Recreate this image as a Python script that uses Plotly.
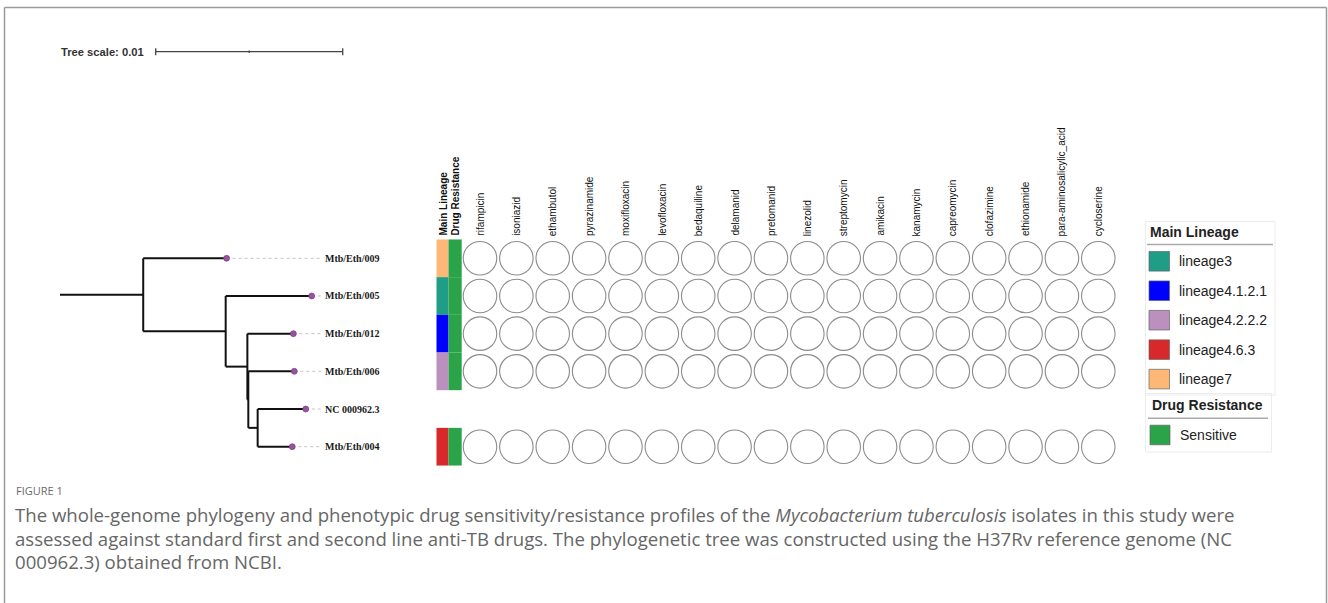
import plotly.graph_objects as go

W, H = 1328, 603

# ---------------- data ----------------
tip_names = ["Mtb/Eth/009", "Mtb/Eth/005", "Mtb/Eth/012",
             "Mtb/Eth/006", "NC 000962.3", "Mtb/Eth/004"]

# rooted tree as (parent, child, branch length in substitutions/site)
edge_parent = ["root", "A", "A", "B", "B", "C", "C", "C2", "C2", "D", "D"]
edge_child = ["A", "Mtb/Eth/009", "B", "Mtb/Eth/005", "C", "Mtb/Eth/012",
              "C2", "Mtb/Eth/006", "D", "NC 000962.3", "Mtb/Eth/004"]
edge_length = [0.00445, 0.00446, 0.00441, 0.00460, 0.00116, 0.00246,
               0.00005, 0.00246, 0.00050, 0.00257, 0.00185]

tip_lineage = ["lineage7", "lineage3", "lineage4.1.2.1", "lineage4.2.2.2",
               None, "lineage4.6.3"]
tip_resistance = ["Sensitive", "Sensitive", "Sensitive", "Sensitive",
                  None, "Sensitive"]

drugs = ["rifampicin", "isoniazid", "ethambutol", "pyrazinamide",
         "moxifloxacin", "levofloxacin", "bedaquiline", "delamanid",
         "pretomanid", "linezolid", "streptomycin", "amikacin", "kanamycin",
         "capreomycin", "clofazimine", "ethionamide",
         "para-aminosalicylic_acid", "cycloserine"]
# phenotype per isolate and drug: "S" susceptible, None not tested
tested = [True, True, True, True, False, True]
drug_calls = [["S"] * len(drugs) if t else [None] * len(drugs) for t in tested]

lineage_names = ["lineage3", "lineage4.1.2.1", "lineage4.2.2.2",
                 "lineage4.6.3", "lineage7"]
lineage_colors = ["#1f9d86", "#0000ff", "#bb8fbe", "#d8282b", "#fdb877"]
resistance_names = ["Sensitive"]
resistance_colors = ["#2ba348"]

tree_scale = 0.01

# ---------------- helpers ----------------
PX_PER_UNIT = 18700.0     # horizontal pixels per substitution/site
ROOT_PX = 60.0
ROW0_PX, ROW_PX = 258.3, 37.68
COL0_PX, COL_PX = 480.0, 36.37


def px(x):
    return x / W


def py(y):
    return 1 - y / H


# ---------------- tree layout ----------------
children = {}
length_of = {}
for p, c, l in zip(edge_parent, edge_child, edge_length):
    children.setdefault(p, []).append(c)
    length_of[c] = l

node_x = {"root": 0.0}
node_y = {}


def place_x(n):
    for c in children.get(n, []):
        node_x[c] = node_x[n] + length_of[c]
        place_x(c)


place_x("root")
for i, t in enumerate(tip_names):
    node_y[t] = i


def place_y(n):
    if n in node_y:
        return node_y[n]
    ys = [place_y(c) for c in children[n]]
    node_y[n] = (min(ys) + max(ys)) / 2
    return node_y[n]


place_y("root")

bx, by = [], []
for p, c in zip(edge_parent, edge_child):
    bx += [node_x[p], node_x[c], None]
    by += [node_y[c], node_y[c], None]
for p, cs in children.items():
    if len(cs) > 1:
        ys = [node_y[c] for c in cs]
        bx += [node_x[p], node_x[p], None]
        by += [min(ys), max(ys), None]

fig = go.Figure()

label_x = (322.5 - ROOT_PX) / PX_PER_UNIT
dash_end = (321.7 - ROOT_PX) / PX_PER_UNIT

# dotted leader lines from tips to labels
lx, ly = [], []
for t in tip_names:
    lx += [node_x[t], dash_end, None]
    ly += [node_y[t], node_y[t], None]
fig.add_trace(go.Scatter(x=lx, y=ly, mode="lines",
                         line=dict(color="#c4c4c4", width=1, dash="3px,3px"),
                         hoverinfo="skip", showlegend=False))

fig.add_trace(go.Scatter(x=bx, y=by, mode="lines",
                         line=dict(color="#111111", width=2),
                         hoverinfo="skip", showlegend=False))

fig.add_trace(go.Scatter(x=[node_x[t] for t in tip_names],
                         y=[node_y[t] for t in tip_names], mode="markers",
                         marker=dict(size=6, color="#9a529f",
                                     line=dict(color="#6e3873", width=0.6)),
                         hoverinfo="skip", showlegend=False))

for t in tip_names:
    fig.add_annotation(x=label_x, y=node_y[t], xref="x", yref="y",
                       text="<b>%s</b>" % t, showarrow=False,
                       xanchor="left", yanchor="middle",
                       font=dict(family="Liberation Serif, Times New Roman, serif",
                                 size=10, color="#1a1a1a"))

# ---------------- annotation strips ----------------
lin_color = dict(zip(lineage_names, lineage_colors))
res_color = dict(zip(resistance_names, resistance_colors))
lin_x0, lin_x1 = (436.5 - COL0_PX) / COL_PX, (448.5 - COL0_PX) / COL_PX
res_x0, res_x1 = lin_x1, (461.7 - COL0_PX) / COL_PX

for i, (lin, res) in enumerate(zip(tip_lineage, tip_resistance)):
    if lin:
        fig.add_shape(type="rect", xref="x2", yref="y",
                      x0=lin_x0, x1=lin_x1, y0=i - 0.5, y1=i + 0.5,
                      fillcolor=lin_color[lin], line_width=0, layer="below")
    if res:
        fig.add_shape(type="rect", xref="x2", yref="y",
                      x0=res_x0, x1=res_x1, y0=i - 0.5, y1=i + 0.5,
                      fillcolor=res_color[res], line_width=0, layer="below")

# ---------------- drug phenotype circles ----------------
cx, cy = [], []
for i, row in enumerate(drug_calls):
    for j, v in enumerate(row):
        if v == "S":
            cx.append(j)
            cy.append(i)
fig.add_trace(go.Scatter(x=cx, y=cy, xaxis="x2", yaxis="y", mode="markers",
                         marker=dict(symbol="circle", size=33.5, color="white",
                                     line=dict(color="#8c8c8c", width=1.1)),
                         hoverinfo="skip", showlegend=False))

hdr_font = dict(family="Liberation Sans, Arial, sans-serif", size=10, color="#111")
for j, d in enumerate(drugs):
    fig.add_annotation(x=j, y=py(238), xref="x2", yref="paper", text=d,
                       textangle=-90, showarrow=False, xanchor="center",
                       yanchor="bottom", font=hdr_font)
for xc, name in [((lin_x0 + lin_x1) / 2, "Main Lineage"),
                 ((res_x0 + res_x1) / 2, "Drug Resistance")]:
    fig.add_annotation(x=xc, y=py(238), xref="x2", yref="paper",
                       text="<b>%s</b>" % name, textangle=-90, showarrow=False,
                       xanchor="center", yanchor="bottom", font=hdr_font)

# ---------------- tree scale bar ----------------
sb0 = (155.7 - ROOT_PX) / PX_PER_UNIT
sb1 = sb0 + tree_scale
sb_y = py(51.7)
fig.add_shape(type="line", xref="x", yref="paper", x0=sb0, x1=sb1,
              y0=sb_y, y1=sb_y, line=dict(color="#444", width=1.3))
for xv, hh in [(sb0, 3.5), (sb1, 3.5), ((sb0 + sb1) / 2, 1.2)]:
    fig.add_shape(type="line", xref="x", yref="paper", x0=xv, x1=xv,
                  y0=sb_y - hh / H, y1=sb_y + hh / H,
                  line=dict(color="#444", width=1.3))
fig.add_annotation(x=px(58.5), y=sb_y, xref="paper", yref="paper",
                   text="<b>Tree scale: %g</b>" % tree_scale, showarrow=False,
                   xanchor="left", yanchor="middle",
                   font=dict(family="Liberation Sans, Arial, sans-serif",
                             size=11.2, color="#333"))

# ---------------- legend ----------------
leg_font = dict(family="Liberation Sans, Arial, sans-serif", size=14, color="#222")
# Main Lineage block
fig.add_shape(type="rect", xref="paper", yref="paper", x0=px(1145.5), x1=px(1275),
              y0=py(395), y1=py(221.5), line=dict(color="#ececec", width=1))
fig.add_annotation(x=px(1148), y=py(232.5), xref="paper", yref="paper",
                   text="<b>Main Lineage</b>", showarrow=False, xanchor="left",
                   yanchor="middle", font=leg_font)
fig.add_shape(type="line", xref="paper", yref="paper", x0=px(1147), x1=px(1273),
              y0=py(244.5), y1=py(244.5), line=dict(color="#aaaaaa", width=1.6))
for k, (nm, col) in enumerate(zip(lineage_names, lineage_colors)):
    yc = 261.3 + 29.45 * k
    fig.add_shape(type="rect", xref="paper", yref="paper", x0=px(1149),
                  x1=px(1169.5), y0=py(yc + 9.8), y1=py(yc - 9.8),
                  fillcolor=col, line=dict(color="#666", width=0.7))
    fig.add_annotation(x=px(1177), y=py(yc), xref="paper", yref="paper",
                       text=nm, showarrow=False, xanchor="left",
                       yanchor="middle", font=leg_font)
# Drug Resistance block
fig.add_shape(type="rect", xref="paper", yref="paper", x0=px(1145.5), x1=px(1271.5),
              y0=py(452), y1=py(393.5), line=dict(color="#ececec", width=1))
fig.add_annotation(x=px(1149.5), y=py(405), xref="paper", yref="paper",
                   text="<b>Drug Resistance</b>", showarrow=False, xanchor="left",
                   yanchor="middle", font=leg_font)
fig.add_shape(type="line", xref="paper", yref="paper", x0=px(1148), x1=px(1268),
              y0=py(418.3), y1=py(418.3), line=dict(color="#aaaaaa", width=1.6))
for k, (nm, col) in enumerate(zip(resistance_names, resistance_colors)):
    yc = 435 + 29.45 * k
    fig.add_shape(type="rect", xref="paper", yref="paper", x0=px(1150),
                  x1=px(1170), y0=py(yc + 9.8), y1=py(yc - 9.8),
                  fillcolor=col, line=dict(color="#666", width=0.7))
    fig.add_annotation(x=px(1178), y=py(yc), xref="paper", yref="paper",
                       text=nm, showarrow=False, xanchor="left",
                       yanchor="middle", font=leg_font)

# ---------------- caption & frame ----------------
cap_font = dict(family="Open Sans, sans-serif", size=18.6, color="#666666")
fig.add_annotation(x=px(13.5), y=py(490), xref="paper", yref="paper",
                   text="FIGURE 1", showarrow=False, xanchor="left",
                   yanchor="middle",
                   font=dict(family="Open Sans, sans-serif", size=11, color="#6a6a6a"))
caption_lines = [
    "The whole-genome phylogeny and phenotypic drug sensitivity/resistance profiles of the "
    "<i>Mycobacterium tuberculosis</i> isolates in this study were",
    "assessed against standard first and second line anti-TB drugs. The phylogenetic tree "
    "was constructed using the H37Rv reference genome (NC",
    "000962.3) obtained from NCBI.",
]
for k, line in enumerate(caption_lines):
    fig.add_annotation(x=px(12.5), y=py(514.5 + 23.5 * k), xref="paper", yref="paper",
                       text=line, showarrow=False, xanchor="left",
                       yanchor="middle", font=cap_font)

frame = dict(color="#9a9a9a", width=1.5)
fig.add_shape(type="line", xref="paper", yref="paper", x0=px(4.5), x1=px(1326.5),
              y0=py(7.5), y1=py(7.5), line=frame)
fig.add_shape(type="line", xref="paper", yref="paper", x0=px(4.5), x1=px(4.5),
              y0=py(7.5), y1=0, line=frame)
fig.add_shape(type="line", xref="paper", yref="paper", x0=px(1326.5), x1=px(1326.5),
              y0=py(7.5), y1=0, line=frame)

# ---------------- axes ----------------
fig.update_layout(
    width=W, height=H, margin=dict(l=0, r=0, t=0, b=0),
    paper_bgcolor="white", plot_bgcolor="white", showlegend=False,
    xaxis=dict(range=[-ROOT_PX / PX_PER_UNIT, (W - ROOT_PX) / PX_PER_UNIT],
               domain=[0, 1], visible=False, fixedrange=True),
    xaxis2=dict(range=[-COL0_PX / COL_PX, (W - COL0_PX) / COL_PX],
                overlaying="x", anchor="y", visible=False, fixedrange=True),
    yaxis=dict(range=[(H - ROW0_PX) / ROW_PX, -ROW0_PX / ROW_PX],
               domain=[0, 1], visible=False, fixedrange=True),
)

fig.write_html("out.html")
